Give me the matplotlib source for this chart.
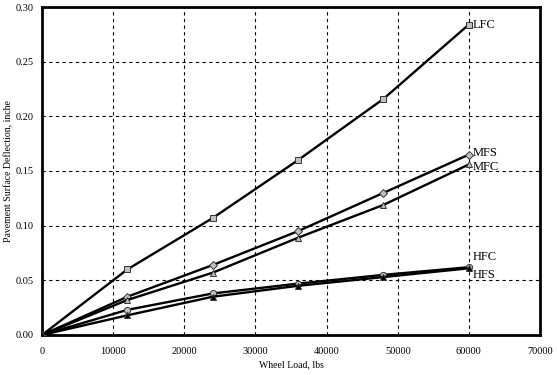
import matplotlib
matplotlib.use("Agg")
import matplotlib.pyplot as plt

# wheel load (lbs) and surface deflection (inch)
wheel_load = [0, 12000, 24000, 36000, 48000, 60000]
lfc = [0.0, 0.060, 0.107, 0.160, 0.216, 0.284]
mfs = [0.0, 0.035, 0.064, 0.095, 0.130, 0.165]
mfc = [0.0, 0.032, 0.057, 0.089, 0.119, 0.156]
hfc = [0.0, 0.023, 0.038, 0.047, 0.055, 0.062]
hfs = [0.0, 0.018, 0.035, 0.045, 0.053, 0.061]

x_ticks = [0, 10000, 20000, 30000, 40000, 50000, 60000, 70000]
y_ticks = [0.00, 0.05, 0.10, 0.15, 0.20, 0.25, 0.30]

plt.rcParams['font.family'] = ['Liberation Serif', 'DejaVu Serif']

fig = plt.figure(figsize=(5.57, 3.75), dpi=100)
ax = fig.add_axes([0.0754, 0.1067, 0.8941, 0.8746])

gray = '#c0c0c0'
series = [
    (lfc, 's', gray, 'LFC', (3, 0)),
    (mfs, 'D', gray, 'MFS', (3, 1.5)),
    (mfc, '^', gray, 'MFC', (3, -1.5)),
    (hfc, 'o', gray, 'HFC', (3, 7)),
    (hfs, '^', 'black', 'HFS', (3, -5)),
]
for vals, mk, fc, name, off in series:
    ms = 4.0 if mk == 'D' else 4.5
    ax.plot(wheel_load, vals, color='black', lw=1.7, marker=mk, ms=ms,
            mfc=fc, mec='#333333', mew=0.7, zorder=3)
    ax.annotate(name, (wheel_load[-1], vals[-1]), xytext=off,
                textcoords='offset points', fontsize=9, va='center', ha='left')

ax.set_xlim(0, 70000)
ax.set_ylim(0, 0.30)
ax.set_xticks(x_ticks)
ax.set_yticks(y_ticks)
ax.set_yticklabels([f"{v:.2f}" for v in y_ticks])
ax.tick_params(axis='x', length=0, labelsize=7.5, pad=9)
ax.tick_params(axis='y', length=0, labelsize=7.5, pad=6)
ax.grid(True, color='black', linestyle=(0, (3, 3)), lw=0.8)
ax.set_axisbelow(True)
for s in ax.spines.values():
    s.set_linewidth(2)

ax.set_xlabel("Wheel Load, lbs", fontsize=7, labelpad=3)
ax.set_ylabel("Pavement Surface Deflection, inche", fontsize=7)
ax.yaxis.set_label_coords(-0.058, 0.5)

fig.savefig("out.png", dpi=100)
